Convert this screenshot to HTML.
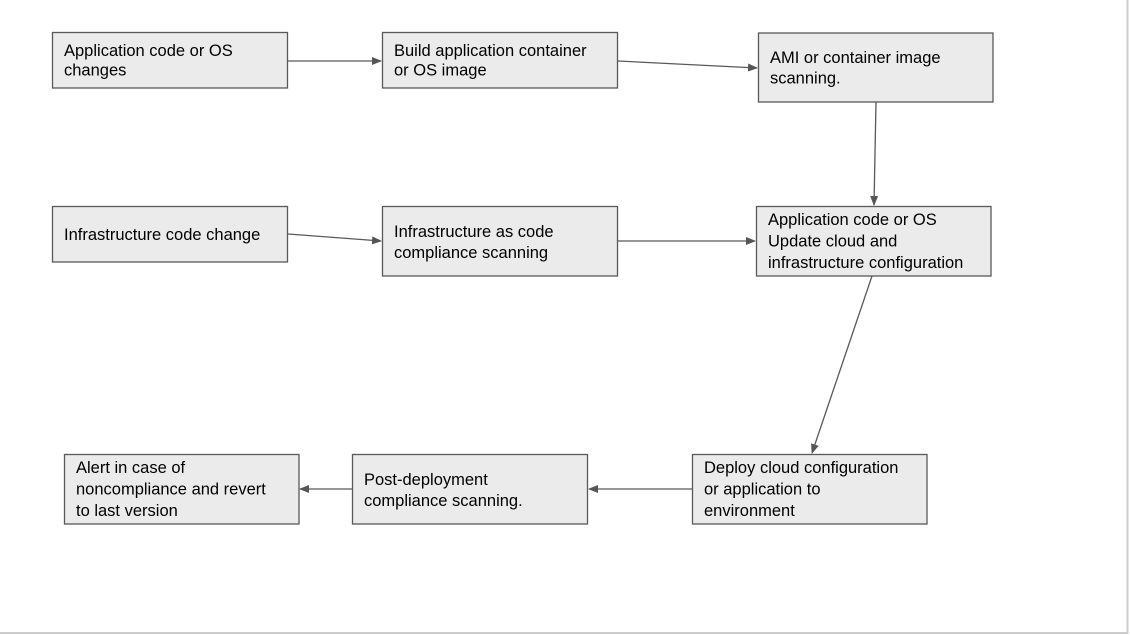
<!DOCTYPE html>
<html><head><meta charset="utf-8"><style>
html,body{margin:0;padding:0;background:#fff;}
svg{display:block;}
text{font-family:"Liberation Sans",Arial,sans-serif;font-size:16.5px;fill:#000;}
</style></head><body>
<svg width="1130" height="635" viewBox="0 0 1130 635" xmlns="http://www.w3.org/2000/svg">
<defs><marker id="a" markerWidth="10" markerHeight="8" refX="9" refY="4" orient="auto" markerUnits="userSpaceOnUse"><path d="M0,0 L10,4 L0,8 z" fill="#555"/></marker></defs>
<line x1="1127.5" y1="0" x2="1127.5" y2="633" stroke="#ccc" stroke-width="2"/>
<line x1="0" y1="633" x2="1128.5" y2="633" stroke="#ccc" stroke-width="2"/>
<g fill="#ebebeb" stroke="#595959" stroke-width="1.3">
<rect x="52.5" y="32.5" width="235" height="55.5"/>
<rect x="382.5" y="32.5" width="235" height="55.5"/>
<rect x="758.5" y="33" width="234.5" height="69"/>
<rect x="52.5" y="206.5" width="235" height="55.5"/>
<rect x="382.5" y="206.5" width="235" height="69.5"/>
<rect x="756.5" y="206.5" width="234.5" height="69.5"/>
<rect x="692.5" y="454.5" width="234.5" height="69.5"/>
<rect x="352.5" y="454.5" width="235" height="69.5"/>
<rect x="64.5" y="454.5" width="234.5" height="69.5"/>
</g>
<g stroke="#595959" stroke-width="1.3" fill="none" marker-end="url(#a)">
<line x1="288" y1="61" x2="381" y2="61"/>
<line x1="618" y1="61" x2="757" y2="68"/>
<line x1="876" y1="102" x2="874" y2="205"/>
<line x1="288" y1="234" x2="381" y2="241"/>
<line x1="618" y1="241" x2="755" y2="241"/>
<line x1="872" y1="276" x2="812" y2="453"/>
<line x1="692" y1="489" x2="589" y2="489"/>
<line x1="352" y1="489" x2="300" y2="489"/>
</g>
<text x="64" y="56">Application code or OS</text>
<text x="64" y="75.5">changes</text>
<text x="394" y="56">Build application container</text>
<text x="394" y="75.5">or OS image</text>
<text x="770" y="63">AMI or container image</text>
<text x="770" y="83.5">scanning.</text>
<text x="64" y="240">Infrastructure code change</text>
<text x="394" y="237">Infrastructure as code</text>
<text x="394" y="258">compliance scanning</text>
<text x="768" y="225">Application code or OS</text>
<text x="768" y="246.5">Update cloud and</text>
<text x="768" y="268">infrastructure configuration</text>
<text x="704" y="473">Deploy cloud configuration</text>
<text x="704" y="494.5">or application to</text>
<text x="704" y="516">environment</text>
<text x="364" y="485">Post-deployment</text>
<text x="364" y="506">compliance scanning.</text>
<text x="76" y="473">Alert in case of</text>
<text x="76" y="494.5">noncompliance and revert</text>
<text x="76" y="516">to last version</text>
</svg>
</body></html>
